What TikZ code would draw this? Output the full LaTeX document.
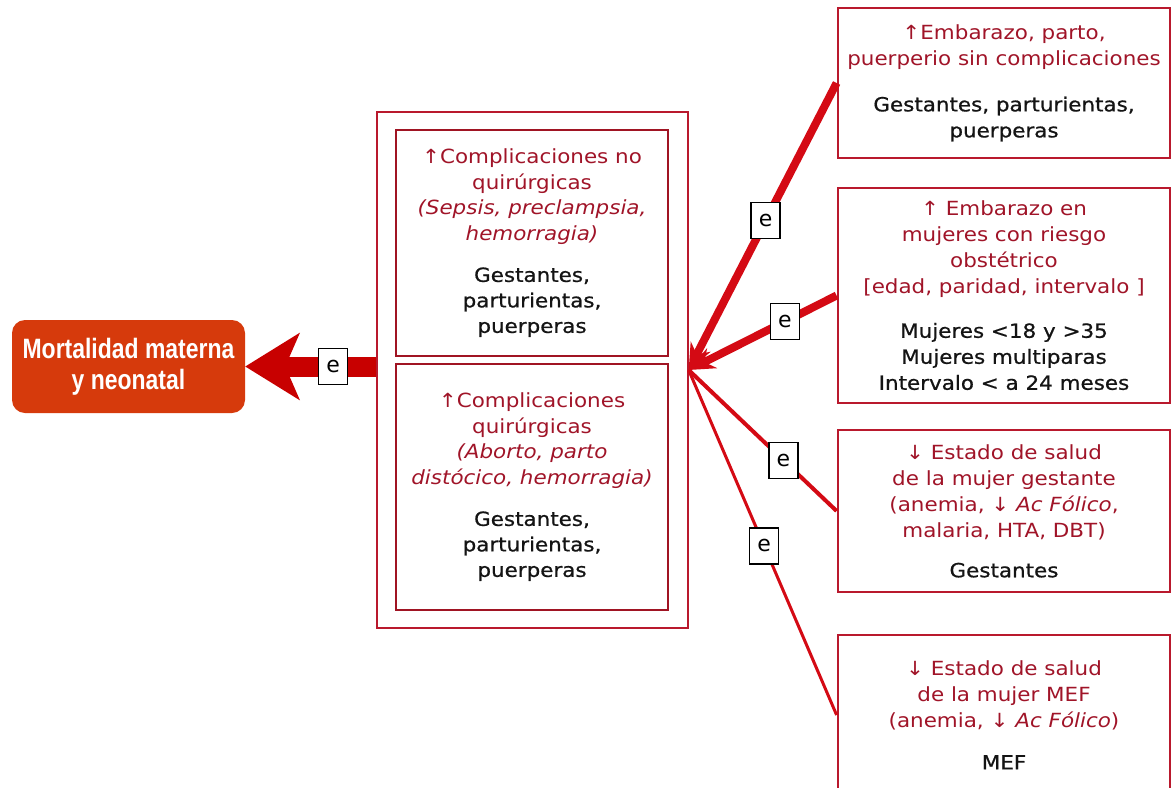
\documentclass[tikz,border=0pt]{standalone}
\usepackage{fontspec}
\usetikzlibrary{arrows.meta}
\newfontfamily\boxfont[FakeStretch=1.1]{DejaVu Sans}
\newfontfamily\boxfontb[FakeStretch=1.1,FakeBold=0.8]{DejaVu Sans}
\newfontfamily\mortfont[FakeStretch=0.82]{Liberation Sans}
\newfontfamily\efont{DejaVu Sans}
\definecolor{mortfill}{RGB}{214,58,12}
\definecolor{arrowred}{RGB}{200,0,0}
\definecolor{linered}{RGB}{212,10,20}
\definecolor{boxred}{RGB}{185,25,45}
\definecolor{innerred}{RGB}{160,20,35}
\definecolor{txtred}{RGB}{160,20,40}
\definecolor{txtblack}{RGB}{20,20,20}
\newcommand{\rd}[1]{\textcolor{txtred}{#1}}
\newcommand{\bk}[1]{\textcolor{txtblack}{\boxfontb #1}}
\tikzset{
  rbox/.style={draw=boxred, line width=2.8pt, minimum width=332pt, align=center, inner sep=0pt,
    font=\boxfont\fontsize{19.5}{26}\selectfont},
  ibox/.style={draw=innerred, line width=2.8pt, minimum width=272pt, align=center, inner sep=0pt,
    font=\boxfont\fontsize{19.5}{25.5}\selectfont},
  elab/.style={draw=black, fill=white, text=black, line width=1.4pt, minimum width=29pt, minimum height=36pt,
    inner sep=0pt, font=\efont\fontsize{22}{24}\selectfont},
  conn/.style={draw=linered},
}
\begin{document}
\begin{tikzpicture}[x=1pt,y=-1pt]
\useasboundingbox (0,0) rectangle (1172,787);
% main box
\node[fill=mortfill, rounded corners=13pt, minimum width=233pt, minimum height=93pt, inner sep=0pt,
  align=center, text=white, font=\mortfont\bfseries\fontsize{28}{31}\selectfont] (mort) at (128.5,366.5)
  {Mortalidad materna\\y neonatal};
% outer and inner boxes
\node[draw=boxred, line width=1.3pt, minimum width=311pt, minimum height=516pt, inner sep=0pt] (outer) at (532.5,370) {};
\node[ibox, minimum height=226pt] (in1) at (532,243)
  {\rd{↑Complicaciones no}\\\rd{quirúrgicas}\\\rd{\itshape (Sepsis, preclampsia,}\\\rd{\itshape hemorragia)}\\[16pt]
   \bk{Gestantes,}\\\bk{parturientas,}\\\bk{puerperas}};
\node[ibox, minimum height=246pt] (in2) at (532,487)
  {\rd{↑Complicaciones}\\\rd{quirúrgicas}\\\rd{\itshape (Aborto, parto}\\\rd{\itshape distócico, hemorragia)}\\[16pt]
   \bk{Gestantes,}\\\bk{parturientas,}\\\bk{puerperas}};
% right boxes
\node[rbox, minimum height=150pt] (r1) at (1004,83)
  {\rd{↑Embarazo, parto,}\\\rd{puerperio sin complicaciones}\\[20pt]
   \bk{Gestantes, parturientas,}\\\bk{puerperas}};
\node[rbox, minimum height=215pt] (r2) at (1004,295.5)
  {\rd{↑ Embarazo en}\\\rd{mujeres con riesgo}\\\rd{obstétrico}\\\rd{[edad, paridad, intervalo ]}\\[18pt]
   \bk{Mujeres <18 y  >35}\\\bk{Mujeres multiparas}\\\bk{Intervalo < a 24 meses}};
\node[rbox, minimum height=162pt] (r3) at (1004,511)
  {\rd{↓ Estado de salud}\\\rd{de la mujer gestante}\\\rd{(anemia, ↓ \textit{Ac Fólico},}\\\rd{malaria, HTA, DBT)}\\[14pt]
   \bk{Gestantes}};
\node[rbox, minimum height=160pt] (r4) at (1004,715)
  {\rd{↓ Estado de salud}\\\rd{de la mujer MEF}\\\rd{(anemia, ↓ \textit{Ac Fólico})}\\[16pt]
   \bk{MEF}};
% connectors
\draw[conn, line width=8pt, -{Stealth[length=26pt, width=22pt]}] (r1.west) -- (outer.east)
  node[elab, pos=0.48] (e1) {e};
\draw[conn, line width=8pt, -{Stealth[length=26pt, width=22pt]}] (r2.west) -- (outer.east)
  node[elab, pos=0.35] (e2) {e};
\draw[conn, line width=4pt] (r3.west) -- (outer.east)
  node[elab, pos=0.36] (e3) {e};
\draw[conn, line width=3pt] (r4.west) -- (outer.east)
  node[elab, pos=0.49] (e4) {e};
\draw[arrowred, line width=20pt, -{Stealth[length=54pt, width=66pt, inset=14pt]}] (outer.west |- mort.east) -- (mort.east)
  node[elab, pos=0.33] (e0) {e};
\end{tikzpicture}
\end{document}
